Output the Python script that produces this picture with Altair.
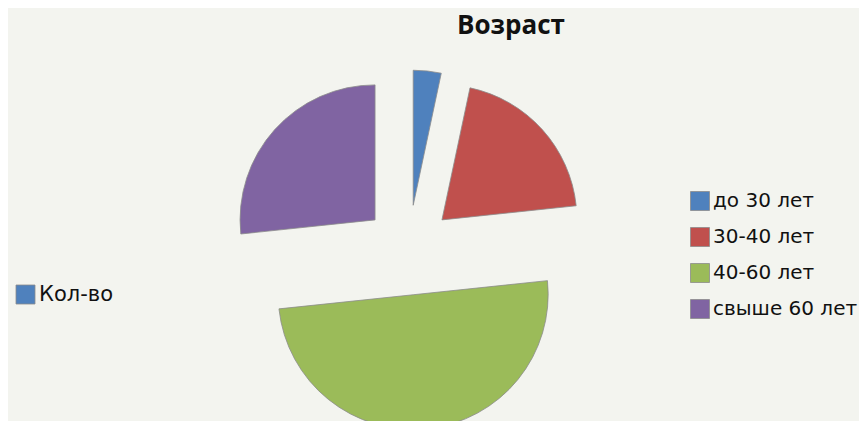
import altair as alt
import pandas as pd

categories = ["до 30 лет", "30-40 лет", "40-60 лет", "свыше 60 лет"]
values = [1, 6, 15, 8]
colors = ["#4F81BD", "#C0504D", "#9BBB59", "#8064A2"]
series_name = "Кол-во"

df = pd.DataFrame({
    "category": categories,
    "value": values,
    "order": list(range(len(categories))),
    "series": [series_name] * len(categories),
})

TOP = 66
CX, CY, R, EXPLODE = 400.5, 242 - TOP, 135, 45
FONT = "DejaVu Sans"
TFONT = "Open Sans"

chart = alt.Chart(df).transform_joinaggregate(
    total="sum(value)"
).transform_window(
    cum="sum(value)", sort=[alt.SortField("order")]
).transform_calculate(
    a0="2*PI*(datum.cum - datum.value)/datum.total",
    a1="2*PI*datum.cum/datum.total",
).transform_calculate(
    mid="(datum.a0 + datum.a1)/2"
).transform_calculate(
    cx=f"{CX} + {EXPLODE}*sin(datum.mid)",
    cy=f"{CY} - {EXPLODE}*cos(datum.mid)",
).mark_arc(outerRadius=R, strokeWidth=0.8).encode(
    theta=alt.Theta("a0:Q", scale=None),
    theta2="a1:Q",
    x=alt.X("cx:Q", scale=None, axis=None),
    y=alt.Y("cy:Q", scale=None, axis=None),
    fill=alt.Fill("category:N", scale=alt.Scale(domain=categories, range=colors),
                  legend=alt.Legend(orient="none", legendX=682, legendY=183 - TOP, title=None,
                                    symbolType="square", symbolSize=361,
                                    symbolStrokeColor="#8c8c8c", symbolStrokeWidth=0.8,
                                    labelFont=FONT, labelFontSize=20, labelColor="#111111",
                                    labelOffset=3, rowPadding=12, labelLimit=300)),
    stroke=alt.Stroke("series:N", scale=alt.Scale(range=["#8c8c8c"]),
                      legend=alt.Legend(orient="none", legendX=7, legendY=276 - TOP, title=None,
                                        symbolType="square", symbolSize=361,
                                        symbolFillColor="#4F81BD", symbolStrokeWidth=0.8,
                                        labelFont=FONT, labelFontSize=21, labelColor="#111111",
                                        labelOffset=3)),
    tooltip=["category:N", "value:Q"],
).properties(
    width=851, height=413 - TOP,
    autosize=alt.AutoSizeParams(type="none"),
    padding={"top": TOP, "left": 0, "right": 0, "bottom": 0},
    background="#f3f4ef",
    title=alt.TitleParams("Возраст", font=TFONT, fontSize=26, fontWeight="bold", color="#111111",
                          anchor="start", frame="group", orient="top", offset=30,
                          dx=449),
).configure_view(stroke=None)

chart.save("out.html", embed_options={"renderer": "svg", "actions": False})
